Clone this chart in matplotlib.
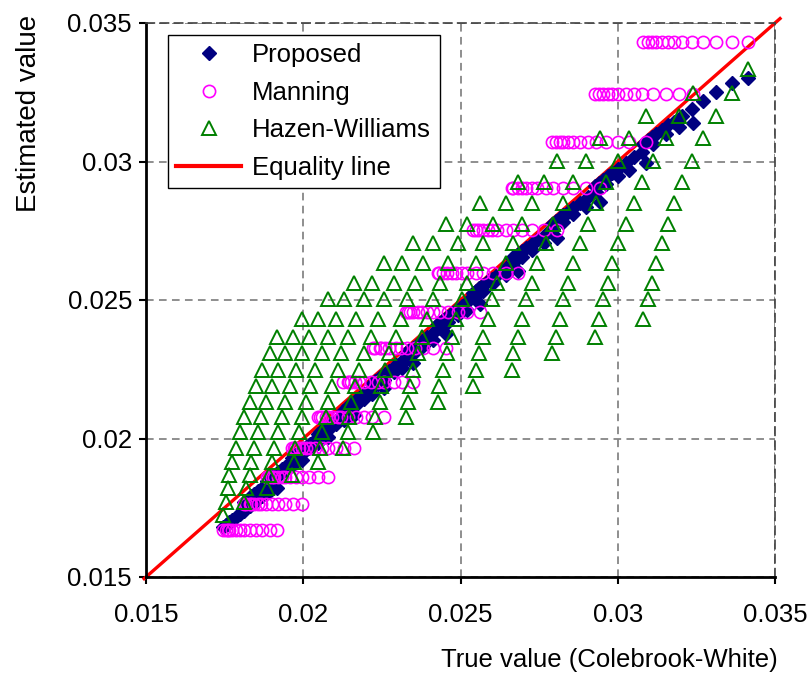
import matplotlib
matplotlib.use('Agg')
import matplotlib.pyplot as plt
from matplotlib.lines import Line2D

plt.rcParams['font.family'] = ['Liberation Sans', 'DejaVu Sans']

# True (Colebrook-White) values, one group of 13 points per pipe group
true_x = [
    [0.03414, 0.03364, 0.03313, 0.03271, 0.03236, 0.03205, 0.03179, 0.03160, 0.03141, 0.03122, 0.03109, 0.03096, 0.03081],
    [0.03240, 0.03195, 0.03154, 0.03112, 0.03077, 0.03052, 0.03026, 0.03001, 0.02982, 0.02969, 0.02953, 0.02941, 0.02928],
    [0.03090, 0.03036, 0.03001, 0.02963, 0.02931, 0.02906, 0.02880, 0.02858, 0.02842, 0.02826, 0.02816, 0.02804, 0.02791],
    [0.02944, 0.02899, 0.02858, 0.02826, 0.02794, 0.02772, 0.02743, 0.02727, 0.02708, 0.02696, 0.02683, 0.02667, 0.02664],
    [0.02807, 0.02766, 0.02727, 0.02696, 0.02667, 0.02645, 0.02616, 0.02600, 0.02587, 0.02572, 0.02559, 0.02549, 0.02540],
    [0.02683, 0.02645, 0.02603, 0.02572, 0.02549, 0.02521, 0.02505, 0.02486, 0.02473, 0.02457, 0.02444, 0.02432, 0.02428],
    [0.02562, 0.02521, 0.02492, 0.02460, 0.02435, 0.02413, 0.02393, 0.02378, 0.02365, 0.02349, 0.02339, 0.02333, 0.02327],
    [0.02454, 0.02413, 0.02381, 0.02355, 0.02330, 0.02311, 0.02295, 0.02273, 0.02260, 0.02247, 0.02244, 0.02228, 0.02222],
    [0.02349, 0.02314, 0.02289, 0.02257, 0.02238, 0.02215, 0.02193, 0.02177, 0.02164, 0.02152, 0.02145, 0.02142, 0.02126],
    [0.02257, 0.02219, 0.02193, 0.02168, 0.02142, 0.02120, 0.02110, 0.02091, 0.02079, 0.02072, 0.02059, 0.02053, 0.02047],
    [0.02161, 0.02129, 0.02104, 0.02079, 0.02059, 0.02037, 0.02021, 0.02009, 0.01996, 0.01986, 0.01974, 0.01970, 0.01964],
    [0.02079, 0.02047, 0.02018, 0.01996, 0.01977, 0.01958, 0.01942, 0.01932, 0.01920, 0.01907, 0.01900, 0.01891, 0.01885],
    [0.01996, 0.01967, 0.01942, 0.01920, 0.01900, 0.01881, 0.01865, 0.01856, 0.01843, 0.01834, 0.01830, 0.01818, 0.01811],
    [0.01916, 0.01894, 0.01869, 0.01850, 0.01830, 0.01811, 0.01799, 0.01786, 0.01773, 0.01764, 0.01760, 0.01754, 0.01745],
]

# Proposed method estimates (same point order as true_x)
proposed_y = [
    [0.03302, 0.03284, 0.03252, 0.03217, 0.03189, 0.03165, 0.03144, 0.03130, 0.03114, 0.03098, 0.03087, 0.03076, 0.03063],
    [0.03139, 0.03123, 0.03099, 0.03063, 0.03035, 0.03016, 0.02994, 0.02974, 0.02958, 0.02947, 0.02933, 0.02923, 0.02912],
    [0.02995, 0.02968, 0.02949, 0.02917, 0.02891, 0.02872, 0.02850, 0.02832, 0.02819, 0.02806, 0.02797, 0.02787, 0.02776],
    [0.02854, 0.02835, 0.02809, 0.02783, 0.02756, 0.02740, 0.02715, 0.02703, 0.02686, 0.02677, 0.02665, 0.02651, 0.02650],
    [0.02723, 0.02706, 0.02681, 0.02655, 0.02632, 0.02615, 0.02590, 0.02577, 0.02567, 0.02554, 0.02542, 0.02534, 0.02526],
    [0.02605, 0.02589, 0.02560, 0.02534, 0.02516, 0.02493, 0.02480, 0.02465, 0.02454, 0.02440, 0.02429, 0.02418, 0.02415],
    [0.02484, 0.02464, 0.02447, 0.02420, 0.02399, 0.02382, 0.02365, 0.02353, 0.02342, 0.02328, 0.02320, 0.02315, 0.02310],
    [0.02377, 0.02355, 0.02334, 0.02313, 0.02292, 0.02277, 0.02264, 0.02245, 0.02234, 0.02223, 0.02221, 0.02206, 0.02201],
    [0.02272, 0.02255, 0.02240, 0.02212, 0.02197, 0.02178, 0.02159, 0.02145, 0.02134, 0.02124, 0.02118, 0.02116, 0.02101],
    [0.02181, 0.02159, 0.02142, 0.02121, 0.02098, 0.02080, 0.02072, 0.02056, 0.02045, 0.02040, 0.02028, 0.02023, 0.02018],
    [0.02086, 0.02068, 0.02052, 0.02030, 0.02013, 0.01994, 0.01980, 0.01970, 0.01959, 0.01950, 0.01939, 0.01936, 0.01931],
    [0.02004, 0.01985, 0.01964, 0.01944, 0.01928, 0.01912, 0.01898, 0.01890, 0.01879, 0.01867, 0.01861, 0.01853, 0.01848],
    [0.01922, 0.01904, 0.01886, 0.01866, 0.01849, 0.01832, 0.01818, 0.01810, 0.01799, 0.01791, 0.01787, 0.01776, 0.01770],
    [0.01822, 0.01810, 0.01791, 0.01774, 0.01756, 0.01739, 0.01728, 0.01717, 0.01705, 0.01697, 0.01693, 0.01688, 0.01680],
]

# Manning estimate: one level per group
manning_y = [0.03432, 0.03244, 0.03071, 0.02906, 0.02751, 0.02596, 0.02455,
             0.02325, 0.02203, 0.02076, 0.01965, 0.01860, 0.01763, 0.01669]

# Hazen-Williams estimate levels (group g uses levels g .. g+12)
hw_levels = [0.03335, 0.03248, 0.03165, 0.03086, 0.03003, 0.02927, 0.02851, 0.02776,
             0.02704, 0.02635, 0.02560, 0.02502, 0.02433, 0.02368, 0.02307, 0.02249,
             0.02188, 0.02131, 0.02076, 0.02022, 0.01965, 0.01914, 0.01867, 0.01820,
             0.01770, 0.01723]

eq_x = [0.0149, 0.0352]
tick_vals = [0.015, 0.02, 0.025, 0.03, 0.035]
tick_labels = ['0.015', '0.02', '0.025', '0.03', '0.035']
series_names = ['Proposed', 'Manning', 'Hazen-Williams', 'Equality line']

# flatten
all_x, all_p, all_m, all_h = [], [], [], []
for g, xs in enumerate(true_x):
    n = len(xs)
    all_x += xs
    all_p += proposed_y[g]
    all_m += [manning_y[g]] * n
    all_h += hw_levels[g:g + n]

W, H = 809, 675
fig = plt.figure(figsize=(W / 100, H / 100), dpi=100)
L, R, T, B = 146, 775, 23, 577
ax = fig.add_axes([L / W, 1 - B / H, (R - L) / W, (B - T) / H])

red, navy, mag, green = '#FF0000', '#000080', '#FF00FF', '#008000'

ax.plot(eq_x, eq_x, color=red, lw=2.4, zorder=2, clip_on=False, solid_capstyle='butt')
ax.plot(all_x, all_p, linestyle='none', marker='D', ms=7.0, color=navy, mec=navy, zorder=3)
ax.plot(all_x, all_m, linestyle='none', marker='o', ms=8.8, mfc='none', mec=mag, mew=1.2, zorder=4)
ax.plot(all_x, all_h, linestyle='none', marker='^', ms=9.8, mfc='none', mec=green, mew=1.4, zorder=5)

ax.set_xlim(0.015, 0.035)
ax.set_ylim(0.015, 0.035)
ax.set_xticks(tick_vals)
ax.set_xticklabels(tick_labels)
ax.set_yticks(tick_vals)
ax.set_yticklabels(tick_labels)

ax.grid(True, color='#707070', linestyle=(0, (5, 3.5)), linewidth=1.1, zorder=0)
ax.set_axisbelow(True)

for s in ['left', 'bottom']:
    ax.spines[s].set_color('black')
    ax.spines[s].set_linewidth(2.0)
for s in ['top', 'right']:
    ax.spines[s].set_color('#404040')
    ax.spines[s].set_linewidth(1.2)
    ax.spines[s].set_linestyle((0, (5, 3.5)))

ax.tick_params(axis='both', direction='out', length=5, width=1.5, colors='black',
               labelsize=18.5)
ax.tick_params(axis='x', pad=14)
ax.tick_params(axis='y', pad=5)
ax.tick_params(top=False, right=False)

fig.text(29 / W, 1 - 113 / H, 'Estimated value', rotation=90, ha='center', va='center',
         fontsize=20)
fig.text(778 / W, 1 - 660 / H, 'True value (Colebrook-White)', ha='right', va='center',
         fontsize=18.5)

handles = [
    Line2D([], [], linestyle='none', marker='D', ms=7, color=navy),
    Line2D([], [], linestyle='none', marker='o', ms=8.8, mfc='none', mec=mag, mew=1.2),
    Line2D([], [], linestyle='none', marker='^', ms=9.8, mfc='none', mec=green, mew=1.4),
    Line2D([], [], color=red, lw=3),
]
leg = ax.legend(handles, series_names, loc='upper left',
                bbox_to_anchor=((168 - L) / (R - L), 1 - (35 - T) / (B - T)),
                borderaxespad=0, fontsize=18.5, frameon=True, fancybox=False,
                handlelength=2.5, handletextpad=0.45, labelspacing=0.52,
                borderpad=0.33, framealpha=1)
leg.get_frame().set_edgecolor('black')
leg.get_frame().set_linewidth(1.0)
leg.set_zorder(10)

fig.savefig('out.png', dpi=100)
